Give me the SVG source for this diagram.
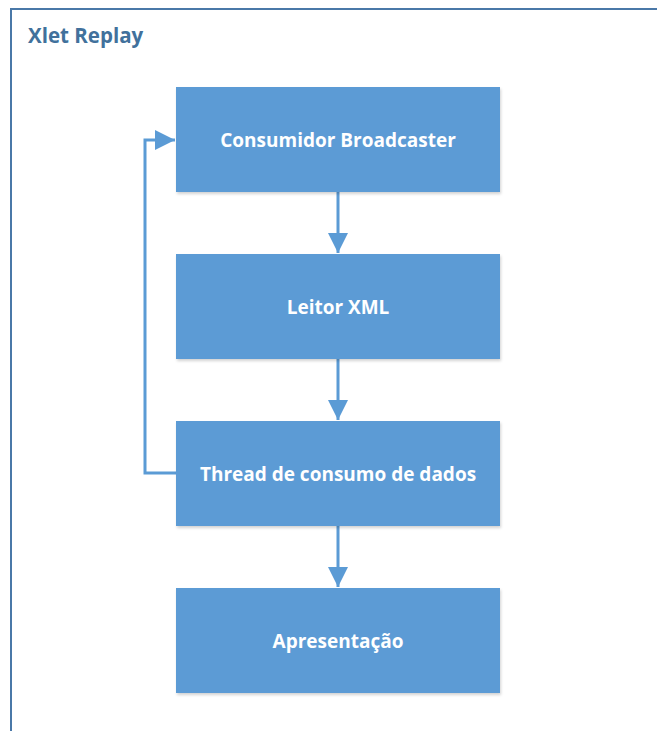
<svg xmlns="http://www.w3.org/2000/svg" width="657" height="731" viewBox="0 0 657 731">
  <style>
    .frame { fill: none; stroke: #4A78A8; stroke-width: 2; }
    .title { font-family: "Open Sans", "Liberation Sans", sans-serif; font-weight: bold; font-size: 20.5px; fill: #41719C; }
    .box { fill: #5B9BD5; filter: url(#shadow); }
    .label { font-family: "Open Sans", "Liberation Sans", sans-serif; font-weight: bold; font-size: 19px; fill: #FFFFFF; text-anchor: middle; dominant-baseline: central; }
    .edge { fill: none; stroke: #5B9BD5; stroke-width: 3; }
  </style>
  <defs>
    <filter id="shadow" x="-5%" y="-5%" width="115%" height="120%">
      <feGaussianBlur in="SourceAlpha" stdDeviation="1.5"/>
      <feOffset dx="1" dy="2" result="b"/>
      <feComponentTransfer><feFuncA type="linear" slope="0.18"/></feComponentTransfer>
      <feMerge><feMergeNode/><feMergeNode in="SourceGraphic"/></feMerge>
    </filter>
    <marker id="arrow" markerUnits="userSpaceOnUse" markerWidth="22" markerHeight="22" refX="20" refY="10" orient="auto">
      <path d="M0,0 L20,10 L0,20 Z" fill="#5B9BD5"/>
    </marker>
  </defs>

  <!-- outer container -->
  <g id="container">
    <path class="frame" d="M11,731 L11,9 L657,9"/>
    <text class="title" x="28" y="43">Xlet Replay</text>
  </g>

  <!-- connectors -->
  <g id="connectors">
    <line class="edge" x1="338" y1="192" x2="338" y2="253" marker-end="url(#arrow)"/>
    <line class="edge" x1="338" y1="359" x2="338" y2="420" marker-end="url(#arrow)"/>
    <line class="edge" x1="338" y1="526" x2="338" y2="587" marker-end="url(#arrow)"/>
    <polyline class="edge" points="176,473 145,473 145,140 175,140" marker-end="url(#arrow)"/>
  </g>

  <g id="consumidor">
    <rect class="box" x="176" y="87" width="324" height="105"/>
    <text class="label" x="338" y="140">Consumidor Broadcaster</text>
  </g>
  <g id="leitor">
    <rect class="box" x="176" y="254" width="324" height="105"/>
    <text class="label" x="338" y="307">Leitor XML</text>
  </g>
  <g id="thread">
    <rect class="box" x="176" y="421" width="324" height="105"/>
    <text class="label" x="338" y="474">Thread de consumo de dados</text>
  </g>
  <g id="apresentacao">
    <rect class="box" x="176" y="588" width="324" height="105"/>
    <text class="label" x="338" y="641">Apresentação</text>
  </g>
</svg>
